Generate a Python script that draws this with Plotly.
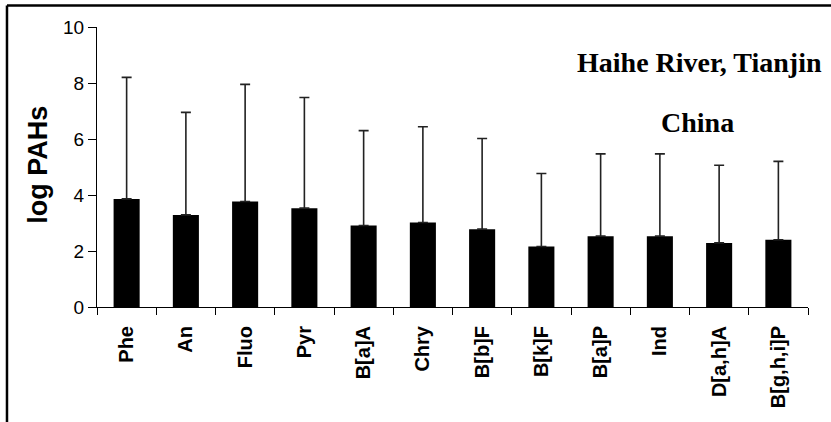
import plotly.graph_objects as go

categories = ["Phe", "An", "Fluo", "Pyr", "B[a]A", "Chry", "B[b]F", "B[k]F",
              "B[a]P", "Ind", "D[a,h]A", "B[g,h,i]P"]
mean_log = [3.86, 3.29, 3.77, 3.53, 2.91, 3.02, 2.78, 2.16, 2.53, 2.53, 2.29, 2.40]
upper_err = [4.34, 3.66, 4.18, 3.95, 3.39, 3.42, 3.24, 2.61, 2.94, 2.94, 2.77, 2.80]
y_ticks = [0, 2, 4, 6, 8, 10]

fig = go.Figure()
fig.add_trace(go.Bar(
    x=categories, y=mean_log,
    marker=dict(color="black", line=dict(color="black", width=0)),
    error_y=dict(type="data", array=upper_err, symmetric=False,
                 arrayminus=[0] * len(upper_err),
                 color="#222222", thickness=1.6, width=5),
    showlegend=False,
))

fig.update_layout(
    width=831, height=422,
    margin=dict(l=97, r=23, t=27, b=115),
    paper_bgcolor="white", plot_bgcolor="white",
    bargap=0.56,
    font=dict(family="Liberation Sans, Arial", color="black"),
    xaxis=dict(
        showline=True, linecolor="black", linewidth=1,
        ticks="outside", tickson="boundaries", ticklen=7, tickcolor="black",
        tickangle=-90, showgrid=False, ticklabelstandoff=10,
        tickfont=dict(family="Liberation Sans, Arial", size=20, color="black",
                      weight="bold"),
    ),
    yaxis=dict(
        range=[0, 10], tickvals=y_ticks,
        showline=True, linecolor="black", linewidth=1,
        ticks="outside", ticklen=8, tickcolor="black", showgrid=False,
        zeroline=False,
        tickfont=dict(family="Liberation Sans, Arial", size=19, color="black"),
    ),
    shapes=[
        dict(type="line", xref="paper", yref="paper", x0=-0.1266, x1=1.2,
             y0=1.077, y1=1.077, line=dict(color="black", width=2.5)),
        dict(type="line", xref="paper", yref="paper", x0=-0.1266, x1=-0.1266,
             y0=1.077, y1=-0.6, line=dict(color="black", width=2.5)),
    ],
    annotations=[
        dict(text="log PAHs", xref="paper", yref="paper", x=-0.083, y=0.508,
             textangle=-90, showarrow=False, xanchor="center", yanchor="middle",
             font=dict(family="Liberation Sans, Arial", size=27, color="black",
                       weight="bold")),
        dict(text="Haihe River, Tianjin", xref="paper", yref="paper",
             x=0.8467, y=0.873, showarrow=False, xanchor="center", yanchor="middle",
             font=dict(family="Liberation Serif, Times New Roman", size=28,
                       color="black", weight="bold")),
        dict(text="China", xref="paper", yref="paper",
             x=0.8446, y=0.658, showarrow=False, xanchor="center", yanchor="middle",
             font=dict(family="Liberation Serif, Times New Roman", size=28,
                       color="black", weight="bold")),
    ],
)

fig.write_html("out.html",
               config={"displayModeBar": False},
               post_script="document.body.style.margin='0';document.body.style.overflow='hidden';")
